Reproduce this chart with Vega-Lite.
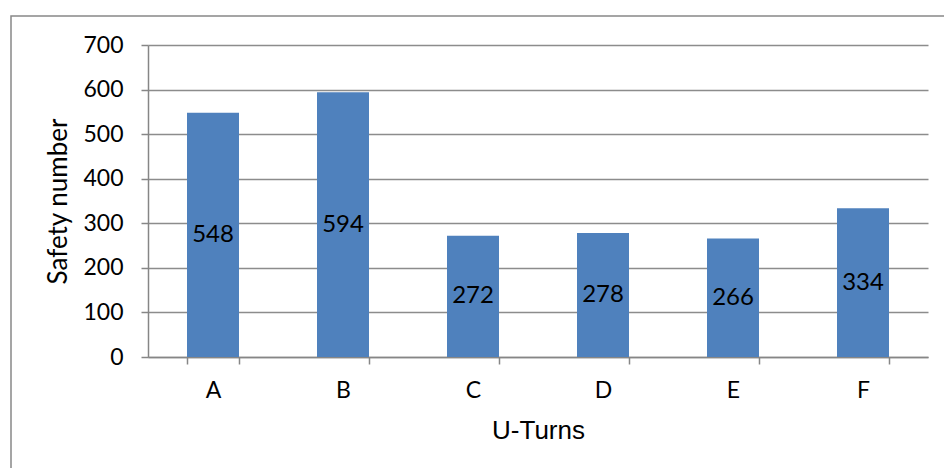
{
  "$schema": "https://vega.github.io/schema/vega-lite/v6.json",
  "autosize": "none",
  "width": 933,
  "height": 452,
  "padding": {"left": 11, "top": 16, "right": 0, "bottom": 0},
  "background": "white",
  "config": {
    "view": {"stroke": "#888888", "strokeWidth": 1.5, "strokeDash": [933, 1385, 452, 10]},
    "axis": {
      "domainColor": "#868686",
      "domainWidth": 1.5,
      "tickColor": "#868686",
      "tickWidth": 1.5,
      "gridColor": "#8c8c8c",
      "gridWidth": 1.3,
      "labelColor": "black",
      "titleColor": "black",
      "titleFontWeight": "normal"
    }
  },
  "data": {
    "values": [
      {"turn": "A", "n": 548},
      {"turn": "B", "n": 594},
      {"turn": "C", "n": 272},
      {"turn": "D", "n": 278},
      {"turn": "E", "n": 266},
      {"turn": "F", "n": 334}
    ]
  },
  "layer": [
    {
      "mark": {"type": "bar", "color": "#4F81BD"},
      "encoding": {
        "x": {
          "field": "turn",
          "type": "nominal",
          "sort": null,
          "scale": {"range": [137, 917], "paddingInner": 0.6, "paddingOuter": 0.3},
          "axis": {
            "title": "U-Turns",
            "offset": -111,
            "labelAngle": 0,
            "labelFont": "Lato",
            "labelFontSize": 23,
            "labelPadding": 15,
            "tickBand": "extent",
            "tickSize": 7,
            "titleFont": "Liberation Sans",
            "titleFontSize": 26,
            "titlePadding": 15
          }
        },
        "y": {
          "field": "n",
          "type": "quantitative",
          "scale": {"domain": [0, 700], "nice": false, "range": [341, 29]},
          "axis": {
            "title": "Safety number",
            "offset": -137,
            "values": [0, 100, 200, 300, 400, 500, 600, 700],
            "grid": true,
            "labelFont": "Lato",
            "labelFontSize": 23,
            "labelPadding": 18,
            "tickSize": 7,
            "titleFont": "Lato",
            "titleFontSize": 26,
            "titlePadding": 11
          }
        }
      }
    },
    {
      "mark": {"type": "text", "font": "Lato", "fontSize": 24, "color": "black", "baseline": "middle"},
      "encoding": {
        "x": {"field": "turn", "type": "nominal", "sort": null},
        "y": {
          "field": "n",
          "type": "quantitative",
          "scale": {"domain": [0, 1400], "nice": false, "range": [341, 29]},
          "axis": null
        },
        "text": {"field": "n", "type": "quantitative"}
      }
    }
  ],
  "resolve": {"scale": {"y": "independent"}}
}
